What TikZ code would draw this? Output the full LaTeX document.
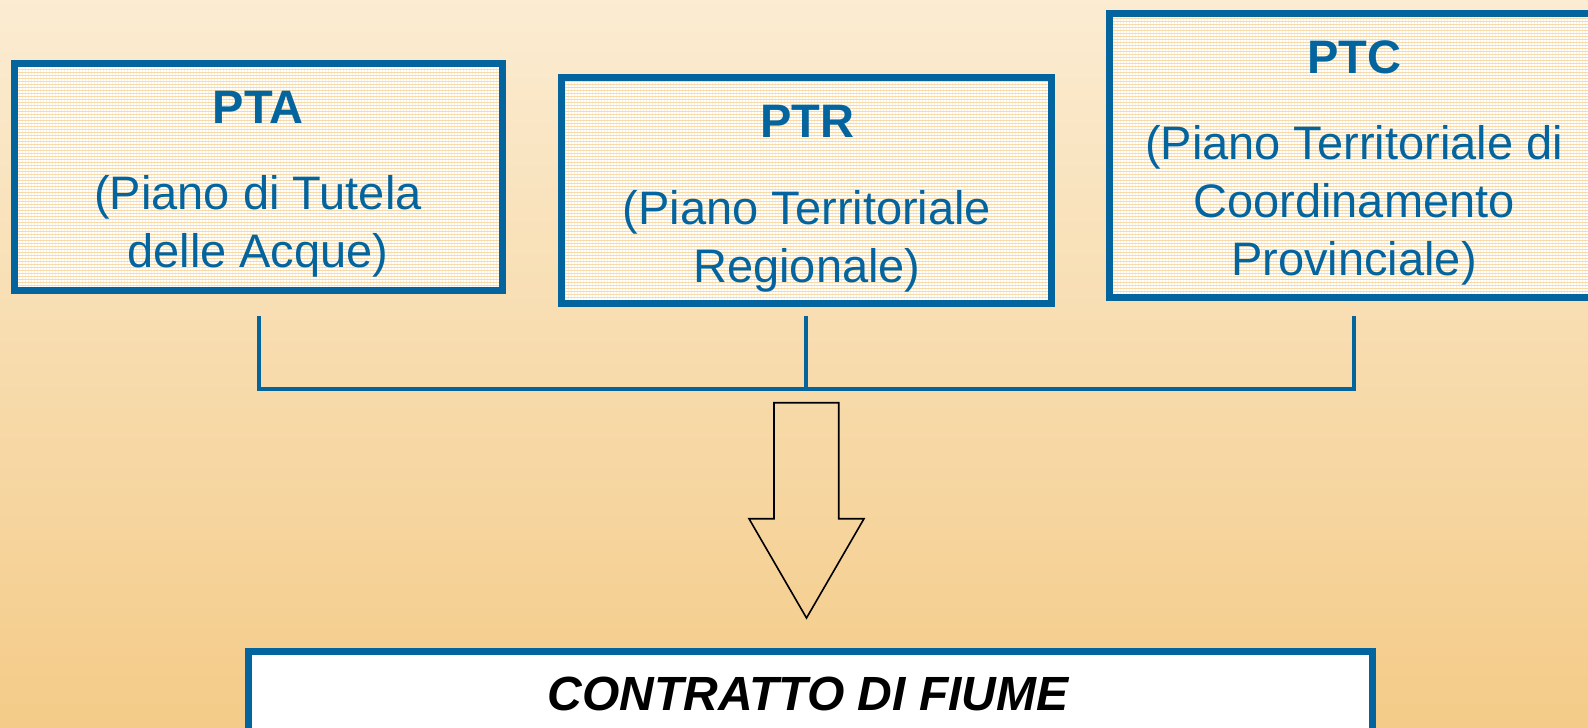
\documentclass[tikz,border=0pt]{standalone}
\usepackage{fontspec}
\setmainfont{Liberation Sans}
\usetikzlibrary{patterns.meta}
\definecolor{bgtop}{RGB}{251,236,210}
\definecolor{bgbot}{RGB}{244,203,136}
\definecolor{boxblue}{RGB}{4,101,158}
\definecolor{stripe}{RGB}{247,218,168}
\tikzset{
  planbox/.style={draw=boxblue, line width=7pt, preaction={fill=stripe},
    pattern={Lines[angle=0,distance=3pt,line width=1.2pt]}, pattern color=white},
  titletext/.style={anchor=base, text=boxblue, font=\fontsize{47}{58}\selectfont\bfseries, inner sep=0pt},
  bodytext/.style={anchor=base, text=boxblue, font=\fontsize{47}{58}\selectfont, align=center, inner sep=0pt},
  bracket/.style={draw=boxblue, line width=4.5pt},
  bigarrow/.style={draw=black, line width=1.6pt, line join=miter},
}
\begin{document}
\begin{tikzpicture}[x=1pt,y=-1pt]
\useasboundingbox (0,0) rectangle (1588,728);
\shade[top color=bgtop, bottom color=bgbot] (0,0) rectangle (1588,728);

% boxes
\path[planbox] (14,63) rectangle (502,290);
\node[inner sep=0pt, minimum width=488pt, minimum height=227pt] (ptaBox) at (258,176.5) {};
\path[planbox] (561.5,77.5) rectangle (1051.5,303.5);
\node[inner sep=0pt, minimum width=490pt, minimum height=226pt] (ptrBox) at (806.5,190.5) {};
\path[planbox] (1109,13.5) rectangle (1596,297.5);
\node[inner sep=0pt, minimum width=487pt, minimum height=284pt] (ptcBox) at (1352.5,155.5) {};

% texts (base anchor = baseline of the last line)
\node[titletext] (ptaT) at (258,123) {PTA};
\node[bodytext] (ptaB) at (258,267) {(Piano di Tutela\\delle Acque)};
\node[titletext] (ptrT) at (807,137) {PTR};
\node[bodytext] (ptrB) at (807,282) {(Piano Territoriale\\Regionale)};
\node[titletext] (ptcT) at (1354,73) {PTC};
\node[bodytext] (ptcB) at (1354,275) {(Piano Territoriale di\\Coordinamento\\Provinciale)};

% bracket
\coordinate (ca) at (259,316);
\coordinate (cb) at (806,316);
\coordinate (cc) at (1354,316);
\coordinate (cm) at (806,389);
\draw[bracket] (ca) |- (cm);
\draw[bracket] (cc) |- (cm);
\draw[bracket] (cb) -- (cm);

% arrow
\draw[bigarrow] (774,402.7) -- (838.7,402.7) -- (838.7,518.7) -- (864,518.7)
  -- (806.5,618) -- (749,518.7) -- (774,518.7) -- cycle;
\coordinate (arrowTip) at (806.5,618);

% bottom box
\node[draw=boxblue, line width=7pt, fill=white, inner sep=0pt,
  minimum width=1124pt, minimum height=88pt, anchor=north west] (cdf) at (244.5,647.5) {};
\node[anchor=base, inner sep=0pt, font=\fontsize{48}{58}\selectfont\bfseries\itshape] (cdfT) at (808,710) {CONTRATTO DI FIUME};
\end{tikzpicture}
\end{document}
